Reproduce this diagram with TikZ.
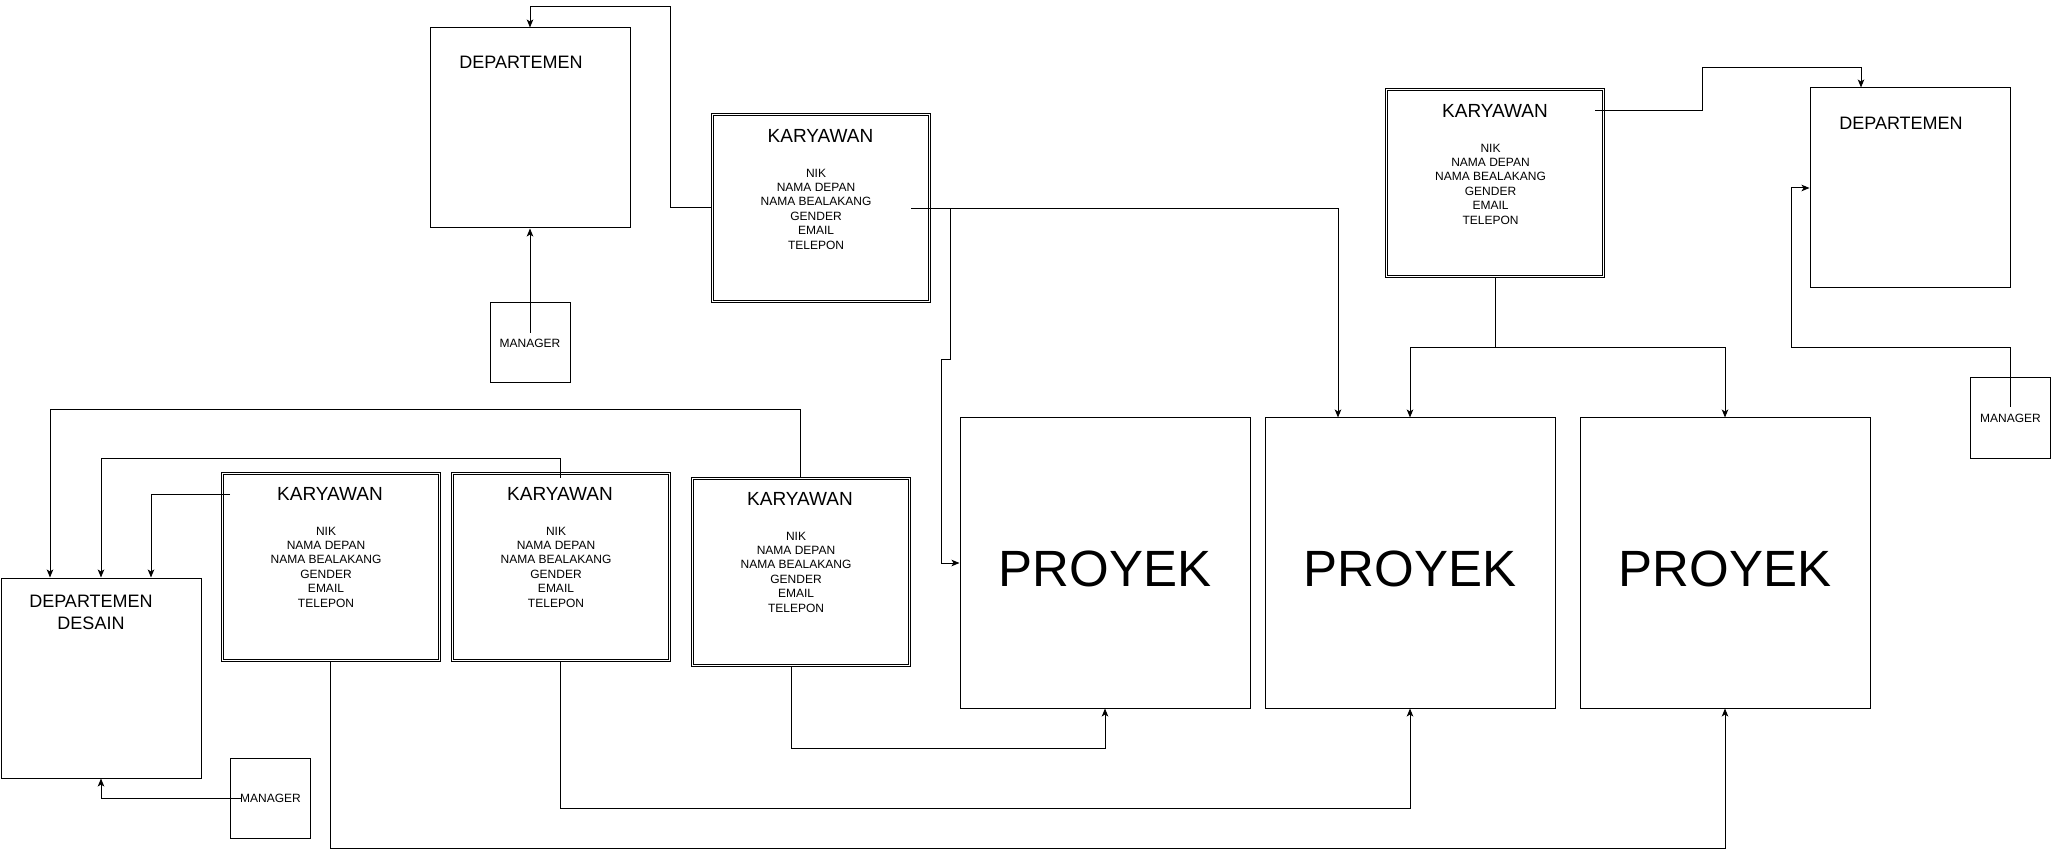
\documentclass[tikz,border=0pt]{standalone}
\usepackage{fontspec}
\setmainfont{Liberation Sans}
\usetikzlibrary{arrows.meta}
\tikzstyle{dept}=[rectangle,draw=black,line width=1pt,minimum width=200pt,minimum height=200pt]
\tikzstyle{kar}=[rectangle,draw=black,line width=1pt,minimum width=219pt,minimum height=189pt,inner sep=0pt,
  append after command={\pgfextra{\draw[line width=1pt] ([shift={(2.5pt,-2.5pt)}]\tikzlastnode.north west)
    rectangle ([shift={(-2.5pt,2.5pt)}]\tikzlastnode.south east);}}]
\tikzstyle{mgr}=[rectangle,draw=black,line width=1pt,minimum width=80pt,minimum height=80pt,
  inner sep=0pt,font=\fontsize{12}{14.4}\selectfont]
\tikzstyle{proy}=[rectangle,draw=black,line width=1pt,minimum width=290pt,minimum height=290pt,
  inner sep=0pt,text height=47pt,text depth=0pt,font=\fontsize{51}{60}\selectfont]
\tikzstyle{judul}=[inner sep=0pt,font=\fontsize{19}{22.8}\selectfont]
\tikzstyle{judulde}=[inner sep=0pt,align=center,font=\fontsize{18}{21.6}\selectfont]
\tikzstyle{atribut}=[inner sep=0pt,align=center,font=\fontsize{12}{14.4}\selectfont]
\tikzstyle{panah}=[line width=1pt,-{Stealth[length=8pt,width=6.5pt,inset=2pt]}]
\newcommand{\isikar}{NIK\\NAMA DEPAN\\NAMA BEALAKANG\\GENDER\\EMAIL\\TELEPON}

\begin{document}
\begin{tikzpicture}[x=1pt,y=-1pt]
    \useasboundingbox (0,0) rectangle (2051,858);
    \node [style=dept] (dep1) at (530,128) {};
    \node [style=judulde] (dep1t) at (521,62.5) {DEPARTEMEN};
    \node [style=mgr] (mgr1) at (530,343) {MANAGER};
    \node [style=kar] (kar1) at (820.5,208) {};
    \node [style=judul] (kar1t) at (820.5,136) {KARYAWAN};
    \node [style=atribut] (kar1a) at (816,209) {\isikar};
    \node [style=kar] (kar4) at (1495,183) {};
    \node [style=judul] (kar4t) at (1495,111) {KARYAWAN};
    \node [style=atribut] (kar4a) at (1490.5,184) {\isikar};
    \node [style=dept] (dep2) at (1910,188) {};
    \node [style=judulde] (dep2t) at (1901,123) {DEPARTEMEN};
    \node [style=mgr] (mgr2) at (2010.5,418) {MANAGER};
    \node [style=proy] (pro1) at (1105,563) {PROYEK};
    \node [style=proy] (pro2) at (1410,563) {PROYEK};
    \node [style=proy] (pro3) at (1725,563) {PROYEK};
    \node [style=dept] (depd) at (101,678) {};
    \node [style=judulde] (depdt) at (91,612.5) {DEPARTEMEN\\DESAIN};
    \node [style=mgr] (mgr3) at (270.5,798) {MANAGER};
    \node [style=kar] (kar2) at (330.5,566.5) {};
    \node [style=judul] (kar2t) at (330,494) {KARYAWAN};
    \node [style=atribut] (kar2a) at (326,567) {\isikar};
    \node [style=kar] (kar3) at (560.5,566.5) {};
    \node [style=judul] (kar3t) at (560,494) {KARYAWAN};
    \node [style=atribut] (kar3a) at (556,567) {\isikar};
    \node [style=kar] (kar5) at (800.5,571.5) {};
    \node [style=judul] (kar5t) at (800,499) {KARYAWAN};
    \node [style=atribut] (kar5a) at (796,572) {\isikar};
    \draw [style=panah] (kar1.west) -| (670,7) -| (dep1.north);
    \draw [style=panah] ([yshift=10pt]mgr1.center) to (dep1.south);
    \draw [style=panah] ([xshift=95pt]kar1a.center) -| ([xshift=-72pt]pro2.north);
    \draw [style=panah] ([xshift=95pt]kar1a.center) -| (950,360) -- (941,360) |- (pro1.west);
    \draw [style=panah] ([xshift=100pt]kar4t.center) -| (1702,68) -| ([xshift=-49pt]dep2.north);
    \draw [style=panah] (kar4.south) |- ([yshift=70pt]pro2.north) to (pro2.north);
    \draw [style=panah] (kar4.south) |- ([yshift=70pt]pro3.north) to (pro3.north);
    \draw [style=panah] ([yshift=11pt]mgr2.center) |- (1791,348) |- (dep2.west);
    \draw [style=panah] (kar5.north) |- (50,410) -- ([xshift=-51pt]depd.north);
    \draw [style=panah] ([yshift=-6pt]kar3.north) |- (101,458) -- (depd.north);
    \draw [style=panah] ([xshift=-100pt]kar2t.center) -| ([xshift=50pt]depd.north);
    \draw [style=panah] ([xshift=-29pt]mgr3.center) -| (depd.south);
    \draw [style=panah] (kar2.south) |- ([yshift=-140pt]pro3.south) to (pro3.south);
    \draw [style=panah] (kar3.south) |- ([yshift=-100pt]pro2.south) to (pro2.south);
    \draw [style=panah] ([xshift=-9pt]kar5.south) |- ([yshift=-40pt]pro1.south) to (pro1.south);
\end{tikzpicture}
\end{document}
